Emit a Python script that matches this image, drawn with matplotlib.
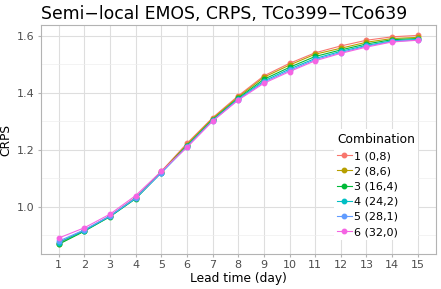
import numpy as np
import matplotlib.pyplot as plt

# lead times (days)
lead = list(range(1, 16))

# CRPS per combination
crps_1 = [0.874, 0.918, 0.968, 1.033, 1.124, 1.222, 1.312, 1.389, 1.459, 1.503, 1.540, 1.564, 1.584, 1.596, 1.601]
crps_2 = [0.870, 0.915, 0.966, 1.030, 1.122, 1.218, 1.309, 1.385, 1.454, 1.497, 1.535, 1.556, 1.577, 1.590, 1.594]
crps_3 = [0.868, 0.914, 0.965, 1.028, 1.120, 1.214, 1.305, 1.381, 1.447, 1.489, 1.527, 1.550, 1.571, 1.586, 1.590]
crps_4 = [0.874, 0.916, 0.966, 1.029, 1.119, 1.212, 1.303, 1.378, 1.441, 1.483, 1.520, 1.545, 1.566, 1.582, 1.587]
crps_5 = [0.879, 0.919, 0.968, 1.031, 1.119, 1.210, 1.301, 1.376, 1.437, 1.478, 1.516, 1.541, 1.563, 1.580, 1.585]
crps_6 = [0.890, 0.926, 0.974, 1.039, 1.124, 1.208, 1.300, 1.374, 1.433, 1.474, 1.512, 1.538, 1.560, 1.578, 1.584]

labels = ["1 (0,8)", "2 (8,6)", "3 (16,4)", "4 (24,2)", "5 (28,1)", "6 (32,0)"]
series = [crps_1, crps_2, crps_3, crps_4, crps_5, crps_6]
colors = ["#F8766D", "#B79F00", "#00BA38", "#00BFC4", "#619CFF", "#F564E3"]

fig = plt.figure(figsize=(4.41, 2.89), dpi=100)
ax = fig.add_axes([0.0923, 0.121, 0.8957, 0.7925])

for vals, lab, col in zip(series, labels, colors):
    ax.plot(lead, vals, color=col, lw=0.8, marker="o", ms=3.2, label=lab)

ax.set_xlim(0.3, 15.7)
ax.set_ylim(0.834, 1.6375)
ax.set_xticks(lead)
ax.set_yticks([1.0, 1.2, 1.4, 1.6])
ax.set_yticklabels(["1.0", "1.2", "1.4", "1.6"])
ax.set_yticks([0.9, 1.1, 1.3, 1.5], minor=True)

ax.grid(True, which="major", color="#DEDEDE", lw=0.8)
ax.grid(True, which="minor", axis="y", color="#EEEEEE", lw=0.5)
ax.set_axisbelow(True)
for s in ax.spines.values():
    s.set_color("#B3B3B3")
    s.set_linewidth(0.8)
ax.tick_params(which="major", length=2.5, color="#B3B3B3", labelsize=8, labelcolor="#4D4D4D", pad=2)
ax.tick_params(which="minor", length=0)

ax.set_xlabel("Lead time (day)", fontsize=8.8, labelpad=1)
ax.set_ylabel("CRPS", fontsize=8.8, labelpad=3)
ax.set_title("Semi\u2212local EMOS, CRPS, TCo399\u2212TCo639", fontsize=12.4, loc="left", x=0.0, pad=4)

leg = ax.legend(title="Combination", loc="lower right", bbox_to_anchor=(0.97, 0.035),
                fontsize=8, title_fontsize=8.8, frameon=True, handlelength=1.3,
                labelspacing=0.47, handletextpad=0.25, borderpad=0.3)
leg.get_frame().set_edgecolor("none")
leg.get_frame().set_facecolor("white")
leg.get_frame().set_alpha(1)
leg._legend_box.align = "left"

fig.savefig("out.png", dpi=100)
